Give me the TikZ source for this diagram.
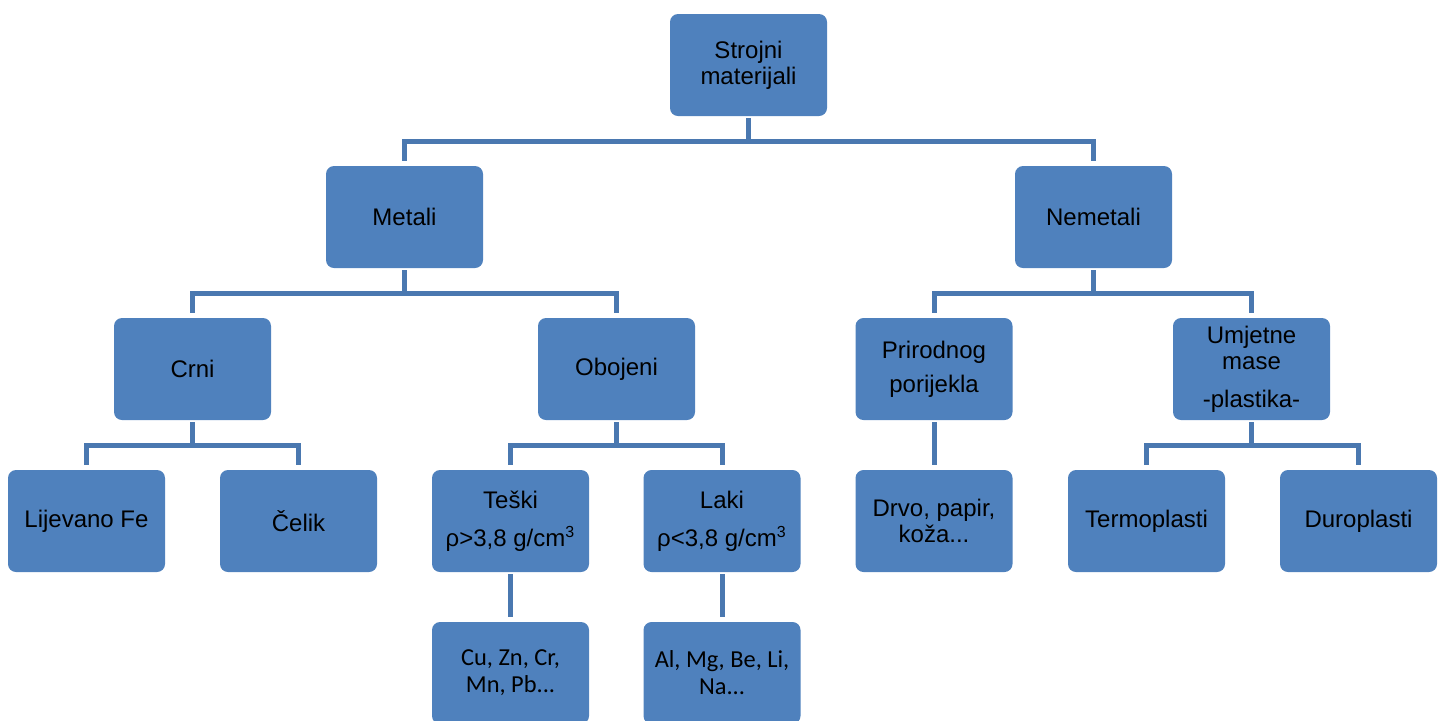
\documentclass[tikz,border=0pt]{standalone}
\usepackage{fontspec}
\setmainfont{Liberation Sans}
\newfontfamily\calfont{Carlito}
\usetikzlibrary{calc}
\definecolor{boxblue}{HTML}{4F81BD}
\definecolor{lineblue}{HTML}{4A78B0}
\tikzset{
  box/.style={draw=none, fill=boxblue, rounded corners=4pt, minimum width=78.5pt, minimum height=51pt, inner sep=0pt, align=center, font=\fontsize{12pt}{13pt}\selectfont, text=black},
  calbox/.style={box, font=\calfont\fontsize{12.2pt}{13.5pt}\selectfont},
  conn/.style={draw=lineblue, line width=2.5pt}
}
\begin{document}
\begin{tikzpicture}[x=0.5pt, y=-0.5pt]
\useasboundingbox (0,0) rectangle (1443,720);
\clip (0,0) rectangle (1443,720);
% nodes
\node[box] (root) at (748.5,65) {Strojni\\materijali};
\node[box] (metali) at (404.5,217) {Metali};
\node[box] (nemetali) at (1093.5,217) {Nemetali};
\node[box] (crni) at (192.5,369) {Crni};
\node[box] (obojeni) at (616.5,369) {Obojeni};
\node[box] (prir) at (934,369) {Prirodnog\\[4pt]porijekla};
\node[box] (umj) at (1251.5,369) {Umjetne\\mase\\[6pt]-plastika-};
\node[box] (lijev) at (86.5,521) {Lijevano Fe};
\node[box] (celik) at (298.5,521) {Čelik};
\node[box] (teski) at (510.5,521) {Teški\\[6pt]ρ>3,8 g/cm\textsuperscript{3}};
\node[box] (laki) at (722,521) {Laki\\[6pt]ρ<3,8 g/cm\textsuperscript{3}};
\node[box] (drvo) at (934,521) {Drvo, papir,\\koža...};
\node[box] (termo) at (1146.5,521) {Termoplasti};
\node[box] (duro) at (1358.5,521) {Duroplasti};
\node[calbox] (cu) at (510.5,673) {Cu, Zn, Cr,\\Mn, Pb...};
\node[calbox] (al) at (722,673) {Al, Mg, Be, Li,\\Na...};
% connectors
\draw[conn] ($(root.south)+(0,2)$) -- ++(0,23) -| ($(metali.north)+(0,-5)$);
\draw[conn] ($(root.south)+(0,2)$) -- ++(0,23) -| ($(nemetali.north)+(0,-5)$);
\draw[conn] ($(metali.south)+(0,2)$) -- ++(0,23) -| ($(crni.north)+(0,-5)$);
\draw[conn] ($(metali.south)+(0,2)$) -- ++(0,23) -| ($(obojeni.north)+(0,-5)$);
\draw[conn] ($(nemetali.south)+(0,2)$) -- ++(0,23) -| ($(prir.north)+(0,-5)$);
\draw[conn] ($(nemetali.south)+(0,2)$) -- ++(0,23) -| ($(umj.north)+(0,-5)$);
\draw[conn] ($(crni.south)+(0,2)$) -- ++(0,23) -| ($(lijev.north)+(0,-5)$);
\draw[conn] ($(crni.south)+(0,2)$) -- ++(0,23) -| ($(celik.north)+(0,-5)$);
\draw[conn] ($(obojeni.south)+(0,2)$) -- ++(0,23) -| ($(teski.north)+(0,-5)$);
\draw[conn] ($(obojeni.south)+(0,2)$) -- ++(0,23) -| ($(laki.north)+(0,-5)$);
\draw[conn] ($(prir.south)+(0,2)$) -- ($(drvo.north)+(0,-5)$);
\draw[conn] ($(umj.south)+(0,2)$) -- ++(0,23) -| ($(termo.north)+(0,-5)$);
\draw[conn] ($(umj.south)+(0,2)$) -- ++(0,23) -| ($(duro.north)+(0,-5)$);
\draw[conn] ($(teski.south)+(0,2)$) -- ($(cu.north)+(0,-5)$);
\draw[conn] ($(laki.south)+(0,2)$) -- ($(al.north)+(0,-5)$);
\end{tikzpicture}
\end{document}
